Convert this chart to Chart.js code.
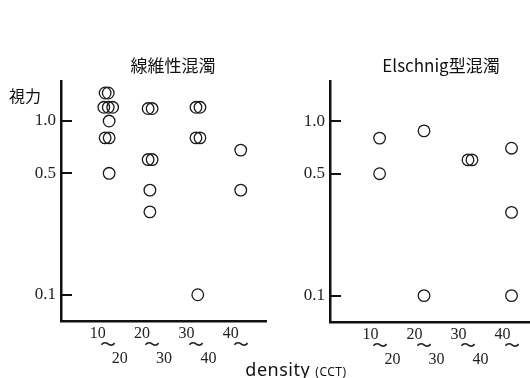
<!DOCTYPE html>
<html>
<head>
<meta charset="utf-8">
<script src="https://cdn.jsdelivr.net/npm/chart.js@4"></script>
<style>
  html, body { margin: 0; padding: 0; background: #fff; }
  #wrap { position: relative; width: 530px; height: 378px; overflow: hidden; }
  canvas { position: absolute; top: 0; }
  .txt { position: absolute; color: #111; white-space: nowrap; transform: translate(-50%, -50%); }
  .cjk { font-family: "Noto Sans CJK JP", "Noto Sans", sans-serif; }
</style>
</head>
<body>
<div id="wrap">
  <canvas id="leftChart" width="268" height="378" style="left:0"></canvas>
  <canvas id="rightChart" width="262" height="378" style="left:268px"></canvas>
  <div class="txt cjk" style="left:173px; top:64px; font-size:17px;">線維性混濁</div>
  <div class="txt cjk" style="left:441px; top:64px; font-size:17px;">Elschnig型混濁</div>
  <div class="txt cjk" style="left:25px; top:95px; font-size:16px;">視力</div>
  <div class="txt" style="left:296px; top:369px; font-family:'Noto Sans', sans-serif; font-size:18px; letter-spacing:0.5px;">density <span style="font-size:12px">(CCT)</span></div>
</div>
<script>
  // density groups (CCT), lower / upper bound of each group
  const groupFrom = ["10", "20", "30", "40"];
  const groupTo = ["20", "30", "40", ""];

  // visual acuity ticks
  const yTicks = [0.1, 0.5, 1.0];
  const yTickLabels = ["0.1", "0.5", "1.0"];

  // 線維性混濁: x = group index (small spread where circles overlap), y = acuity
  const fibrousX = [0.94, 1.01, 0.91, 1.01, 1.11, 1.03, 0.94, 1.03, 1.03,
                    1.91, 2.0, 1.91, 2.0, 1.95, 1.95,
                    2.99, 3.08, 2.99, 3.08, 3.03,
                    4.0, 4.0];
  const fibrousY = [1.45, 1.45, 1.2, 1.2, 1.2, 1.0, 0.8, 0.8, 0.5,
                    1.18, 1.18, 0.6, 0.6, 0.4, 0.3,
                    1.2, 1.2, 0.8, 0.8, 0.1,
                    0.68, 0.4];

  // Elschnig型混濁
  const elschnigX = [0.98, 0.98, 1.99, 1.99, 2.99, 3.08, 3.98, 3.98, 3.98];
  const elschnigY = [0.8, 0.5, 0.88, 0.1, 0.6, 0.6, 0.7, 0.3, 0.1];

  function toPoints(xs, ys) {
    return xs.map(function (x, i) { return { x: x, y: ys[i] }; });
  }

  // short tick marks drawn inward from the y axis
  const innerTicks = {
    id: "innerTicks",
    afterDraw: function (chart) {
      const ctx = chart.ctx;
      const y = chart.scales.y;
      const left = chart.chartArea.left;
      ctx.save();
      ctx.strokeStyle = "#111";
      ctx.lineWidth = 2;
      y.ticks.forEach(function (t) {
        const py = Math.round(y.getPixelForValue(t.value));
        ctx.beginPath();
        ctx.moveTo(left, py);
        ctx.lineTo(left + 11, py);
        ctx.stroke();
      });
      ctx.restore();
    }
  };

  // keep the chart area where it is: no extra room for overflowing labels
  function noPad(s) {
    s.paddingLeft = 0;
    s.paddingRight = 0;
    s.paddingTop = 0;
    s.paddingBottom = 0;
  }

  function makeChart(id, points, opts) {
    return new Chart(document.getElementById(id).getContext("2d"), {
      type: "scatter",
      data: {
        datasets: [{
          data: points,
          pointRadius: 5.8,
          pointHoverRadius: 5.8,
          borderWidth: 1.3,
          borderColor: "#1a1a1a",
          backgroundColor: "rgba(0,0,0,0)",
          clip: 8
        }]
      },
      options: {
        responsive: false,
        animation: false,
        layout: { autoPadding: false, padding: { top: 81, right: opts.padRight, bottom: 0, left: 0 } },
        plugins: { legend: { display: false }, tooltip: { enabled: false } },
        scales: {
          x: {
            type: "linear",
            min: opts.xMin,
            max: opts.xMax,
            afterBuildTicks: function (s) {
              s.ticks = groupFrom.map(function (g, i) { return { value: i + 1 }; });
            },
            afterFit: function (s) { s.height = opts.xHeight; noPad(s); },
            grid: { display: false, drawTicks: false },
            border: { display: true, color: "#111", width: 2.5 },
            ticks: {
              autoSkip: false,
              maxRotation: 0,
              padding: 6,
              color: "#222",
              font: { family: "'Liberation Serif', serif", size: 16, lineHeight: 0.8 },
              callback: function (v) {
                const i = Math.round(v) - 1;
                return [groupFrom[i] + "     ", "〜", "      " + groupTo[i]];
              }
            }
          },
          y: {
            type: "logarithmic",
            min: 0.0706,
            max: 1.70,
            afterBuildTicks: function (s) {
              s.ticks = yTicks.map(function (v) { return { value: v }; });
            },
            afterFit: function (s) { s.width = opts.yWidth; noPad(s); },
            grid: { display: false, drawTicks: false },
            border: { display: true, color: "#111", width: 2.5 },
            ticks: {
              padding: 5,
              color: "#222",
              font: { family: "'Liberation Serif', serif", size: 17 },
              callback: function (v) { return yTickLabels[yTicks.indexOf(v)]; }
            }
          }
        }
      },
      plugins: [innerTicks]
    });
  }

  document.addEventListener("DOMContentLoaded", function () {
    makeChart("leftChart", toPoints(fibrousX, fibrousY),
      { xMin: -0.056, xMax: 4.57, padRight: 2, xHeight: 57, yWidth: 61 });
    makeChart("rightChart", toPoints(elschnigX, elschnigY),
      { xMin: -0.148, xMax: 4.40, padRight: 0, xHeight: 56, yWidth: 62 });
  });
</script>
</body>
</html>
